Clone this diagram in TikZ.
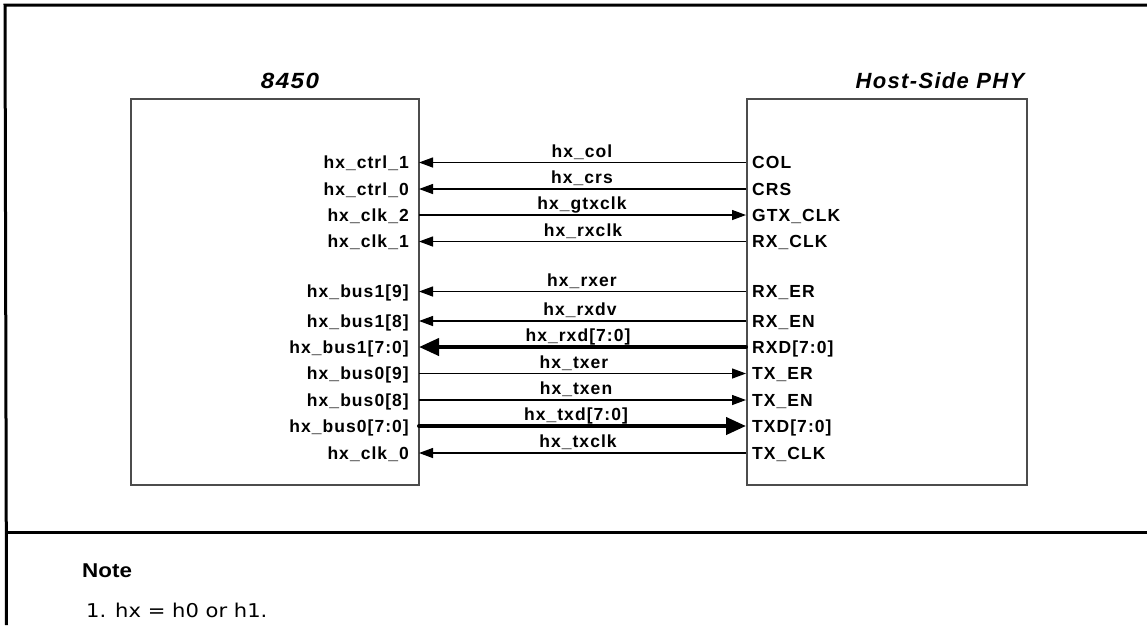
\documentclass[tikz,border=0pt]{standalone}
\usepackage{graphicx}
\usepackage{fontspec}
\setmainfont{Liberation Sans}
\newfontfamily\lblfont[LetterSpace=6]{Liberation Sans}
\newfontfamily\ttlfont[LetterSpace=6]{Liberation Sans}
\newfontfamily\notefont{DejaVu Sans}
\usetikzlibrary{arrows.meta}
\begin{document}
\begin{tikzpicture}[x=1pt,y=-1pt,
  lbl/.style={font=\lblfont\bfseries\fontsize{17.5}{20}\selectfont, inner sep=0pt},
  ttl/.style={font=\ttlfont\bfseries\itshape\fontsize{22}{26}\selectfont, inner sep=0pt, anchor=base},
  chipbox/.style={draw=black!70, line width=1.5pt, anchor=north west, inner sep=0pt},
  frameline/.style={line width=3pt, black},
  wire/.style={line width=1.3pt},
  bus/.style={line width=4pt, line cap=round},
  thinarr/.style={-{Triangle[length=14pt,width=10pt]}},
  busarr/.style={-{Triangle[length=20pt,width=17pt]}}]
\useasboundingbox (0,0) rectangle (1147,625);

% frame
\coordinate (ftl) at (6.5,5);
\coordinate (ftr) at (1147,5);
\coordinate (fbl) at (6.5,625);
\coordinate (fdl) at (6.5,532.5);
\coordinate (fdr) at (1147,532.5);
\draw[frameline] (ftr) -- (5,5) -- (fbl);
\draw[frameline] (fdl) -- (fdr);

% boxes
\node[chipbox, minimum width=288pt, minimum height=386pt] (chip) at (130,98) {};
\node[chipbox, minimum width=280pt, minimum height=386pt] (phy) at (746,98) {};

% titles
\node[ttl] (t1) at (290,88) {\scalebox{1.1}[1]{8450}};
\node[ttl] (t2) at (940,88) {Host-Side PHY};

% pins and labels
\foreach \n/\y/\ll/\ml/\cx/\rl in {
  1/162.5/{hx\_ctrl\_1}/{hx\_col}/582/{COL},
  2/189/{hx\_ctrl\_0}/{hx\_crs}/582/{CRS},
  3/215/{hx\_clk\_2}/{hx\_gtxclk}/582/{GTX\_CLK},
  4/241.5/{hx\_clk\_1}/{hx\_rxclk}/583/{RX\_CLK},
  5/291.5/{hx\_bus1[9]}/{hx\_rxer}/582/{RX\_ER},
  6/321/{hx\_bus1[8]}/{hx\_rxdv}/580/{RX\_EN},
  7/347/{hx\_bus1[7:0]}/{hx\_rxd[7:0]}/578/{RXD[7:0]},
  8/373.5/{hx\_bus0[9]}/{hx\_txer}/574/{TX\_ER},
  9/400/{hx\_bus0[8]}/{hx\_txen}/576/{TX\_EN},
  10/426/{hx\_bus0[7:0]}/{hx\_txd[7:0]}/576/{TXD[7:0]},
  11/453/{hx\_clk\_0}/{hx\_txclk}/578/{TX\_CLK}}{
  \coordinate (L\n) at (419,\y);
  \coordinate (R\n) at (746,\y);
  \node[lbl, anchor=base east] (ll\n) at (409,\y+6) {\ll};
  \node[lbl, anchor=base] (ml\n) at (\cx,\y-5.5) {\ml};
  \node[lbl, anchor=base west] (rl\n) at (752,\y+6) {\rl};
}

% connectors
\draw[wire, thinarr] (R1) -- (L1);
\draw[wire, thinarr] (R2) -- (L2);
\draw[wire, thinarr] (L3) -- (R3);
\draw[wire, thinarr] (R4) -- (L4);
\draw[wire, thinarr] (R5) -- (L5);
\draw[wire, thinarr] (R6) -- (L6);
\draw[bus, busarr] (R7) -- (L7);
\draw[wire, thinarr] (L8) -- (R8);
\draw[wire, thinarr] (L9) -- (R9);
\draw[bus, busarr] (L10) -- (R10);
\draw[wire, thinarr] (R11) -- (L11);

% note
\node[font=\bfseries\fontsize{20}{24}\selectfont, anchor=base west, inner sep=0pt] (notehead) at (82,577) {\scalebox{1.12}[1]{Note}};
\node[font=\notefont\fontsize{19}{22}\selectfont, anchor=base west, inner sep=0pt] (notetext) at (86,617) {\scalebox{1.11}[1]{1. hx = h0 or h1.}};
\end{tikzpicture}
\end{document}
